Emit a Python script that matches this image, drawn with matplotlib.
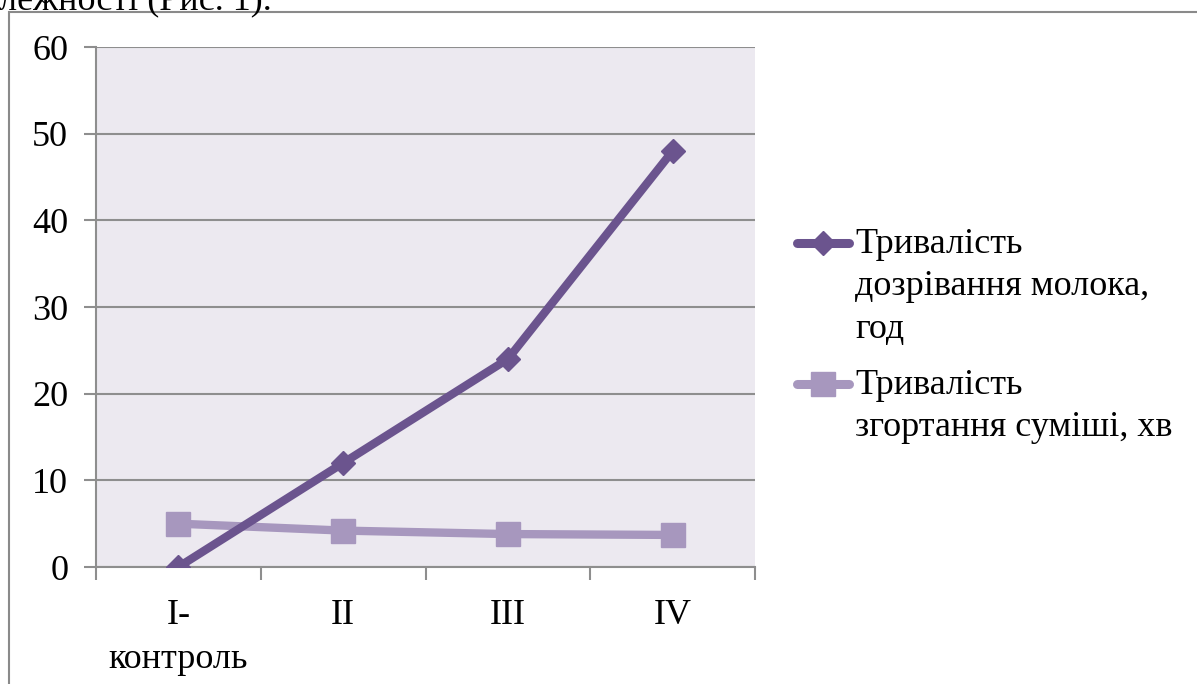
import matplotlib
matplotlib.use("Agg")
import matplotlib.pyplot as plt
from matplotlib.lines import Line2D
from matplotlib.patches import Rectangle
import numpy as np

categories = ["I-\nконтроль", "II", "III", "IV"]
ripening_hours = [0, 12, 24, 48]
coagulation_min = [5.0, 4.2, 3.8, 3.7]
label_ripening = "Тривалість\nдозрівання молока,\nгод"
label_coag = "Тривалість\nзгортання суміші, хв"
y_ticks = [0, 10, 20, 30, 40, 50, 60]

dark = "#6B548E"
light = "#A797BE"
bg = "#ECE9F0"
grid_c = "#8E8E8E"
FS = 26

plt.rcParams['font.family'] = ['Liberation Serif', 'DejaVu Serif']
W, H = 1197, 684
fig = plt.figure(figsize=(W / 100, H / 100), dpi=100)

def fx(px):
    return px / W

def fy(py):
    return 1 - py / H

ax = fig.add_axes([fx(96), fy(567), fx(755) - fx(96), fy(47) - fy(567)])
ax.set_facecolor(bg)
x = np.arange(len(categories))
ax.plot(x, ripening_hours, color=dark, lw=6, marker='D', ms=12.5, mec=dark, mfc=dark,
        solid_capstyle='round', zorder=4)
ax.plot(x, coagulation_min, color=light, lw=6, marker='s', ms=17, mec=light, mfc=light,
        solid_capstyle='round', zorder=3)

ax.set_xlim(-0.5, len(categories) - 0.5)
ax.set_ylim(0, 60)
ax.set_yticks(y_ticks)
ax.set_yticklabels([str(v) for v in y_ticks], fontsize=FS)
ax.yaxis.grid(True, color=grid_c, lw=1.5)
ax.set_axisbelow(True)
ax.tick_params(axis='y', length=9, width=1.5, color=grid_c, pad=11)

ax.set_xticks(np.arange(-0.5, len(categories), 1.0))
ax.set_xticklabels([])
ax.set_xticks(x, minor=True)
ax.set_xticklabels(categories, minor=True, fontsize=FS, linespacing=1.45)
ax.tick_params(axis='x', which='major', length=9, width=1.5, color=grid_c)
ax.tick_params(axis='x', which='minor', length=0, pad=23)

for s in ['top', 'right']:
    ax.spines[s].set_visible(False)
for s in ['left', 'bottom']:
    ax.spines[s].set_color(grid_c)
    ax.spines[s].set_linewidth(1.5)

# outer chart border
fig.add_artist(Rectangle((fx(9), -0.1), 1.2, fy(12) + 0.1, transform=fig.transFigure,
                         fill=False, edgecolor="#8A8A8A", lw=1.5))

# cropped body text above the chart (cut off at the top edge in the reference too)
fig.text(fx(272), fy(9), "лежності (Рис. 1).", fontsize=FS, ha='right', va='baseline')

# legend drawn manually (handle aligned with the first text line, as in the reference)
def legend_entry(y_handle, color, marker, ms, label, y_text_top):
    fig.add_artist(Line2D([fx(797), fx(849)], [fy(y_handle), fy(y_handle)], transform=fig.transFigure,
                          color=color, lw=6.5, solid_capstyle='round'))
    fig.add_artist(Line2D([fx(823)], [fy(y_handle)], transform=fig.transFigure,
                          color=color, marker=marker, ms=ms, mec=color, mfc=color, lw=0))
    fig.text(fx(855), fy(y_text_top), label, fontsize=FS, ha='left', va='top', linespacing=1.38)

legend_entry(243, dark, 'D', 12.5, label_ripening, 228)
legend_entry(384, light, 's', 17, label_coag, 369)

fig.savefig("out.png", dpi=100)
